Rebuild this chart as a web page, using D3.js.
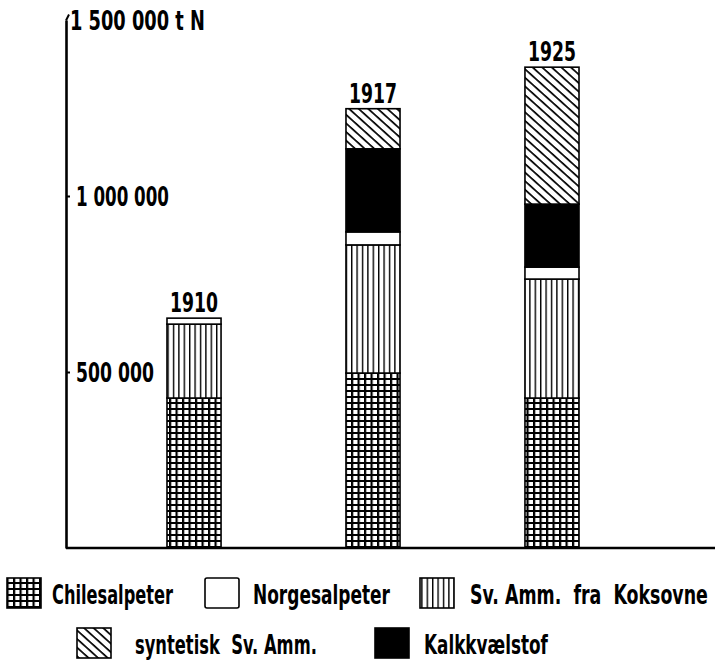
<!DOCTYPE html>
<html>
<head>
<meta charset="utf-8">
<script src="https://cdn.jsdelivr.net/npm/d3@7"></script>
<style>
    body { margin: 0; background: #fff; }
    text { font-family: "Liberation Sans Narrow", "DejaVu Sans Condensed", sans-serif; font-weight: bold; fill: #000; }
</style>
</head>
<body>
<div id="chart"></div>
<script>
const width = 718;
const height = 670;

// data (t N)
const years = ["1910", "1917", "1925"];
const chilesalpeter = [426000, 497000, 426000];
const koksovne = [210000, 364000, 338000];
const norgesalpeter = [17000, 37000, 34000];
const kalkkvaelstof = [0, 236000, 179000];
const syntetisk = [0, 114000, 389000];

const tickValues = [500000, 1000000, 1500000];
const tickLabels = ["500 000", "1 000 000", "1 500 000 t N"];

// stacking order, bottom to top
const keys = ["chile", "koks", "norge", "kalk", "synt"];
const legendNames = {
    chile: "Chilesalpeter",
    norge: "Norgesalpeter",
    koks: "Sv. Amm.  fra  Koksovne",
    synt: "syntetisk  Sv. Amm.",
    kalk: "Kalkkvælstof"
};

const rows = years.map((y, i) => ({
    year: y,
    chile: chilesalpeter[i],
    koks: koksovne[i],
    norge: norgesalpeter[i],
    kalk: kalkkvaelstof[i],
    synt: syntetisk[i]
}));

const svg = d3.select('#chart')
    .append("svg")
    .attr('width', width)
    .attr('height', height);

svg.append("rect").attr("width", width).attr("height", height).attr("fill", "#fff");

// patterns
const defs = svg.append("defs");

const pChile = defs.append("pattern")
    .attr("id", "p-chile")
    .attr("patternUnits", "userSpaceOnUse")
    .attr("width", 6.5).attr("height", 6);
pChile.append("rect").attr("width", 6.5).attr("height", 6).attr("fill", "#fff");
pChile.append("rect").attr("x", 0).attr("y", 0).attr("width", 2.2).attr("height", 6).attr("fill", "#000");
pChile.append("rect").attr("x", 0).attr("y", 0).attr("width", 6.5).attr("height", 2).attr("fill", "#000");

const pKoks = defs.append("pattern")
    .attr("id", "p-koks")
    .attr("patternUnits", "userSpaceOnUse")
    .attr("width", 5.4).attr("height", 10);
pKoks.append("rect").attr("width", 5.4).attr("height", 10).attr("fill", "#fff");
pKoks.append("rect").attr("x", 0).attr("width", 1.4).attr("height", 10).attr("fill", "#000");

const pSynt = defs.append("pattern")
    .attr("id", "p-synt")
    .attr("patternUnits", "userSpaceOnUse")
    .attr("width", 10).attr("height", 6.4)
    .attr("patternTransform", "rotate(42)");
pSynt.append("rect").attr("width", 10).attr("height", 6.4).attr("fill", "#fff");
pSynt.append("rect").attr("y", 0).attr("width", 10).attr("height", 1.7).attr("fill", "#000");

const fills = {
    chile: "url(#p-chile)",
    koks: "url(#p-koks)",
    norge: "#fff",
    kalk: "#000",
    synt: "url(#p-synt)"
};

// scales
const x = d3.scaleBand()
    .domain(years)
    .range([77.5, 668.5])
    .paddingInner(0.698)
    .paddingOuter(0.5);

const y = d3.scaleLinear()
    .domain([0, 1500000])
    .range([548, 20]);

const stack = d3.stack().keys(keys);
const series = stack(rows);

// squeeze a text horizontally so it spans w pixels, anchored at (tx, ty)
function fitText(sel, tx, ty, w) {
    sel.each(function (d) {
        const len = this.getComputedTextLength();
        const sx = w(d) / len;
        d3.select(this).attr("transform", `translate(${tx(d)},${ty(d)}) scale(${sx},1)`);
    });
}

// bars
const layers = svg.append("g").selectAll("g")
    .data(series)
    .enter().append("g")
    .attr("fill", d => fills[d.key]);

layers.selectAll("rect")
    .data(d => d.filter(s => s[1] - s[0] > 0))
    .enter().append("rect")
    .attr("x", d => x(d.data.year))
    .attr("y", d => y(d[1]))
    .attr("width", x.bandwidth())
    .attr("height", d => y(d[0]) - y(d[1]))
    .attr("stroke", "#000")
    .attr("stroke-width", 1.6);

// year labels
svg.append("g").selectAll("text")
    .data(series[series.length - 1])
    .enter().append("text")
    .attr("text-anchor", "middle")
    .attr("font-size", 27)
    .text(d => d.data.year)
    .call(fitText, d => x(d.data.year) + x.bandwidth() / 2, d => y(d[1]) - 6, () => 48);

// y axis
const yAxis = d3.axisRight(y)
    .tickValues(tickValues)
    .tickSize(4)
    .tickSizeOuter(0)
    .tickPadding(6)
    .tickFormat((d, i) => tickLabels[i]);

const axisG = svg.append("g")
    .attr("transform", "translate(66,0)")
    .call(yAxis);

axisG.select(".domain").attr("stroke", "#000").attr("stroke-width", 2.6);
axisG.selectAll(".tick line").attr("stroke", "#000").attr("stroke-width", 2);
axisG.selectAll(".tick text")
    .attr("font-size", 27)
    .attr("font-family", null)
    .attr("dy", "0.35em")
    .attr("x", 0)
    .call(fitText, d => d === 1500000 ? 4 : 10, () => 0,
        d => ({ 500000: 78, 1000000: 93, 1500000: 135 })[d]);
// hook at the top of the axis
axisG.select(".tick:last-of-type line")
    .attr("x2", 3).attr("y1", 0).attr("y2", -6);

// baseline
svg.append("line")
    .attr("x1", 66).attr("x2", 715)
    .attr("y1", y(0)).attr("y2", y(0))
    .attr("stroke", "#000")
    .attr("stroke-width", 2.4);

// legend
const legendItems = [
    { key: "chile", x: 7, y: 578, tx: 52, tw: 121 },
    { key: "norge", x: 205, y: 578, tx: 253, tw: 137 },
    { key: "koks", x: 420, y: 578, tx: 470, tw: 238 },
    { key: "synt", x: 77, y: 628, tx: 135, tw: 182 },
    { key: "kalk", x: 375, y: 628, tx: 424, tw: 124 }
];

const legend = svg.append("g").selectAll("g")
    .data(legendItems)
    .enter().append("g");

legend.append("rect")
    .attr("x", d => d.x)
    .attr("y", d => d.y)
    .attr("width", 34)
    .attr("height", 30)
    .attr("fill", d => fills[d.key])
    .attr("stroke", "#000")
    .attr("stroke-width", 1.6)
    .attr("rx", d => d.key === "norge" ? 2 : 0);

legend.append("text")
    .attr("font-size", 26)
    .style("white-space", "pre")
    .text(d => legendNames[d.key])
    .call(fitText, d => d.tx, d => d.y + 26, d => d.tw);
</script>
</body>
</html>
